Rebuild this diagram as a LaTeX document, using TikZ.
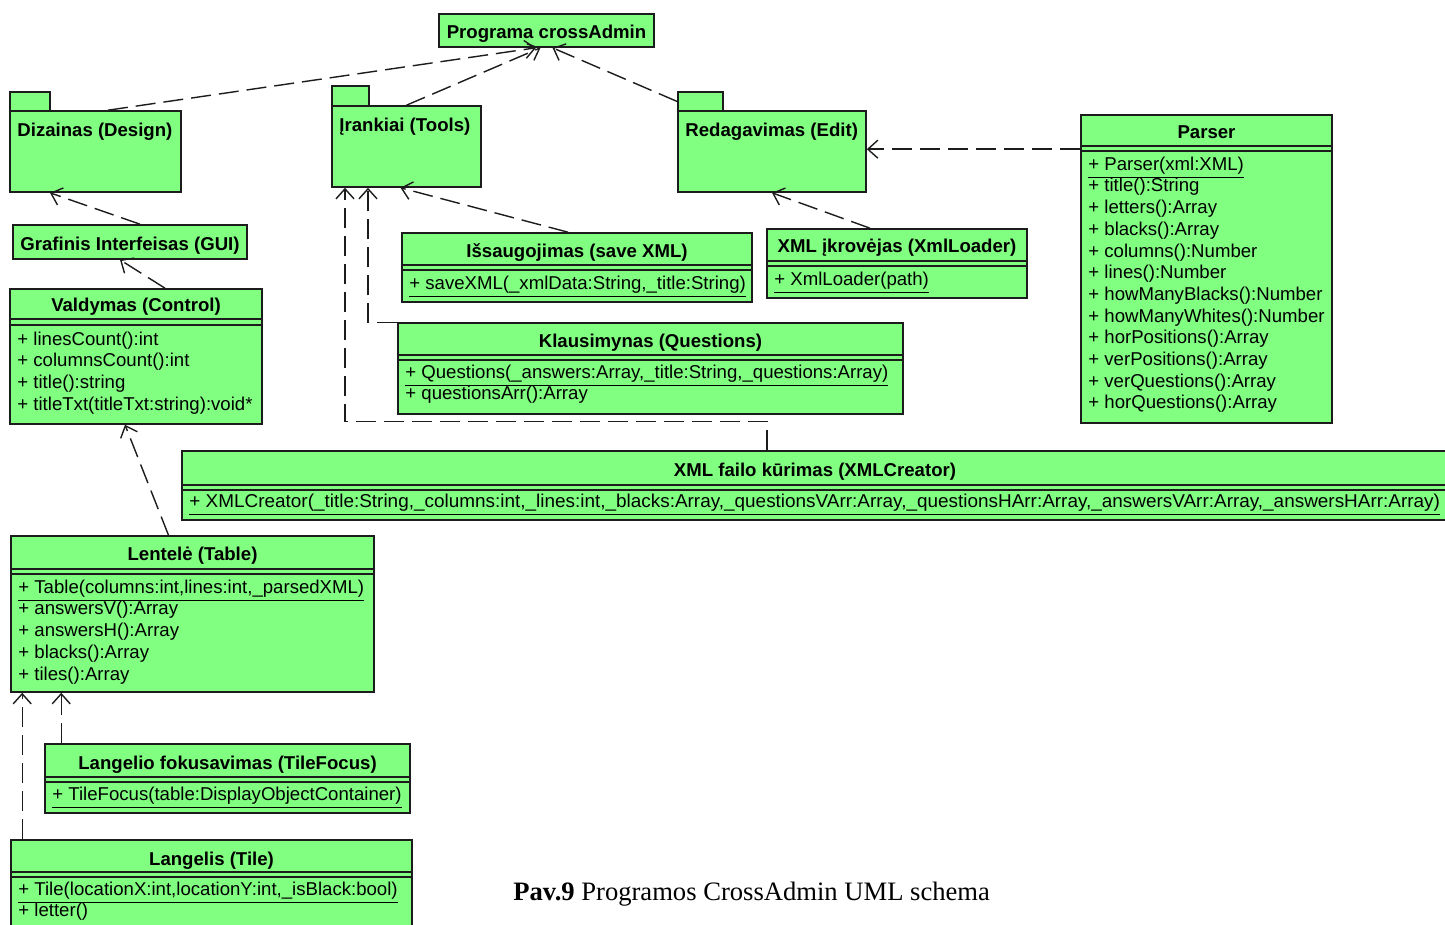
\documentclass[tikz,border=0pt]{standalone}
\usepackage{fontspec}
\setmainfont{Liberation Sans}
\newfontfamily\captionfont{Liberation Serif}
\usepackage{xcolor}
\usetikzlibrary{arrows.meta,fit}
\definecolor{umlgreen}{RGB}{128,255,128}
\definecolor{umlline}{RGB}{28,28,28}

\begin{document}
\begin{tikzpicture}[x=0.5pt,y=-0.5pt,
    umlbox/.style={draw=umlline,fill=umlgreen,line width=0.8pt,inner sep=0pt},
    umlrule/.style={draw=umlline,line width=0.8pt},
    umltitle/.style={font=\bfseries\fontsize{9.3}{11}\selectfont,text height=7pt,text depth=2pt,inner sep=0pt,yshift=-1.5pt},
    umlops/.style={font=\fontsize{9.3}{10.85}\selectfont,align=left,anchor=north west,inner sep=0pt},
    pkglabel/.style={umltitle,anchor=west},
    dep/.style={draw=umlline,line width=0.7pt,dash pattern=on 10pt off 4pt,-{Straight Barb[length=5pt,width=9pt]}}]

    \useasboundingbox (0,0) rectangle (1445,925);

    % Main program
    \node[umlbox,fit={(439,14) (654,47)}] (programa) {};
    \node[umltitle] (programa-title) at (programa.center) {Programa crossAdmin};

    % Package: design
    \node[umlbox,fit={(10,92) (50,111)}] (design-tab) {};
    \node[umlbox,fit={(10,111) (181,192)}] (design) {};
    \node[pkglabel] (design-label) at (17,129) {Dizainas (Design)};

    % Package: tools
    \node[umlbox,fit={(332,86) (369,106)}] (tools-tab) {};
    \node[umlbox,fit={(332,106) (481,187)}] (tools) {};
    \node[pkglabel] (tools-label) at (339,124) {Įrankiai (Tools)};

    % Package: edit
    \node[umlbox,fit={(678,92) (723,111)}] (edit-tab) {};
    \node[umlbox,fit={(678,111) (866,192)}] (edit) {};
    \node[pkglabel] (edit-label) at (685,129) {Redagavimas (Edit)};

    % Parser
    \node[umlbox,fit={(1081,115) (1332,423)}] (parser) {};
    \draw[umlrule] (1081,146) -- (1332,146) (1081,151) -- (1332,151);
    \node[umltitle] (parser-title) at (1206.5,131) {Parser};
    \node[umlops] (parser-ops) at (1088,156.4) {\underline{+ Parser(xml:XML)}\\+ title():String\\+ letters():Array\\+ blacks():Array\\+ columns():Number\\+ lines():Number\\+ howManyBlacks():Number\\+ howManyWhites():Number\\+ horPositions():Array\\+ verPositions():Array\\+ verQuestions():Array\\+ horQuestions():Array};

    % GUI
    \node[umlbox,fit={(13,225) (247,259)}] (gui) {};
    \node[umltitle] (gui-title) at (gui.center) {Grafinis Interfeisas (GUI)};

    % Control
    \node[umlbox,fit={(10,289) (262,424)}] (control) {};
    \draw[umlrule] (10,319) -- (262,319) (10,325) -- (262,325);
    \node[umltitle] (control-title) at (136,304) {Valdymas (Control)};
    \node[umlops] (control-ops) at (17,331.4) {+ linesCount():int\\+ columnsCount():int\\+ title():string\\+ titleTxt(titleTxt:string):void*};

    % Save XML
    \node[umlbox,fit={(402,233) (752,302)}] (savexml) {};
    \draw[umlrule] (402,265) -- (752,265) (402,270) -- (752,270);
    \node[umltitle] (savexml-title) at (577,249) {Išsaugojimas (save XML)};
    \node[umlops] (savexml-ops) at (409,275.4) {\underline{+ saveXML(\_xmlData:String,\_title:String)}};

    % XML loader
    \node[umlbox,fit={(767,229) (1027,298)}] (xmlloader) {};
    \draw[umlrule] (767,261) -- (1027,261) (767,266) -- (1027,266);
    \node[umltitle] (xmlloader-title) at (897,245) {XML įkrovėjas (XmlLoader)};
    \node[umlops] (xmlloader-ops) at (774,271.4) {\underline{+ XmlLoader(path)}};

    % Questions
    \node[umlbox,fit={(398,323) (903,414)}] (questions) {};
    \draw[umlrule] (398,355) -- (903,355) (398,360) -- (903,360);
    \node[umltitle] (questions-title) at (650.5,339) {Klausimynas (Questions)};
    \node[umlops] (questions-ops) at (405,364.4) {\underline{+ Questions(\_answers:Array,\_title:String,\_questions:Array)}\\+ questionsArr():Array};

    % XML creator
    \node[umlbox,fit={(182,451) (1460,520)}] (xmlcreator) {};
    \draw[umlrule] (182,485) -- (1460,485) (182,490) -- (1460,490);
    \node[umltitle] (xmlcreator-title) at (815,468) {XML failo kūrimas (XMLCreator)};
    \node[umlops] (xmlcreator-ops) at (189,493.4) {\underline{\scalebox{1.018}[1]{+ XMLCreator(\_title:String,\_columns:int,\_lines:int,\_blacks:Array,\_questionsVArr:Array,\_questionsHArr:Array,\_answersVArr:Array,\_answersHArr:Array)}}};

    % Table
    \node[umlbox,fit={(11,536) (374,692)}] (table) {};
    \draw[umlrule] (11,569) -- (374,569) (11,574) -- (374,574);
    \node[umltitle] (table-title) at (192.5,552) {Lentelė (Table)};
    \node[umlops] (table-ops) at (18,579.4) {\underline{+ Table(columns:int,lines:int,\_parsedXML)}\\+ answersV():Array\\+ answersH():Array\\+ blacks():Array\\+ tiles():Array};

    % Tile focus
    \node[umlbox,fit={(45,744) (410,813)}] (tilefocus) {};
    \draw[umlrule] (45,777) -- (410,777) (45,782) -- (410,782);
    \node[umltitle] (tilefocus-title) at (227.5,761) {Langelio fokusavimas (TileFocus)};
    \node[umlops] (tilefocus-ops) at (52,786.4) {\underline{+ TileFocus(table:DisplayObjectContainer)}};

    % Tile
    \node[umlbox,fit={(11,840) (412,940)}] (tile) {};
    \draw[umlrule] (11,872) -- (412,872) (11,877) -- (412,877);
    \node[umltitle] (tile-title) at (211.5,857) {Langelis (Tile)};
    \node[umlops] (tile-ops) at (18,881.4) {\underline{+ Tile(locationX:int,locationY:int,\_isBlack:bool)}\\+ letter()};

    % Caption
    \node[font=\captionfont\fontsize{13.3}{15}\selectfont,anchor=base west,inner sep=0pt] (caption) at (513,900) {\textbf{Pav.9} Programos CrossAdmin UML schema};

    % Dependencies
    \draw[dep] ([xshift=6.25pt]design.north) -- ([xshift=-5.25pt]programa.south);
    \draw[dep] (tools.north) -- ([xshift=-3pt]programa.south);
    \draw[dep] (edit-tab.west) -- ([xshift=3pt]programa.south);
    \coordinate (parser-dep) at ([yshift=-17.5pt]parser.north west);
    \draw[dep] (parser-dep) -- (parser-dep -| edit.east);
    \draw[dep] ([xshift=-13.5pt]xmlloader.north) -- (edit.south);
    \draw[dep] ([xshift=-4.5pt]savexml.north) -- ([xshift=-3pt]tools.south);
    \draw[dep] ([xshift=5pt]gui.north) -- ([xshift=-22.75pt]design.south);
    \draw[dep] ([xshift=14.5pt]control.north) -- ([xshift=-5pt]gui.south);
    \draw[dep] ([xshift=-12pt]table.north) -- ([xshift=-5.5pt]control.south);
    \draw[dep] (questions.north west) -| ([xshift=-19.25pt]tools.south);
    \draw[dep] ([xshift=-27pt]xmlcreator.north) -- ++(0,-29) -| ([xshift=-30.75pt]tools.south);
    \coordinate (focus-dep) at ([xshift=8.5pt]tilefocus.north west);
    \draw[dep] (focus-dep) -- (focus-dep |- table.south);
    \coordinate (tile-dep) at ([xshift=6pt]tile.north west);
    \draw[dep] (tile-dep) -- (tile-dep |- table.south);
\end{tikzpicture}
\end{document}
